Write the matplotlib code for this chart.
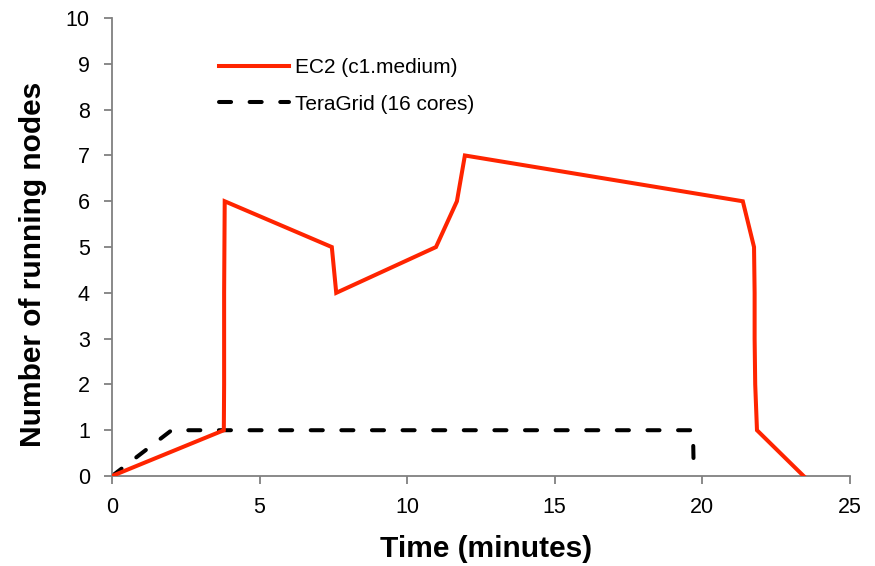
import matplotlib
matplotlib.use("Agg")
import matplotlib.pyplot as plt

plt.rcParams['font.family'] = ['Liberation Sans', 'DejaVu Sans']

# EC2 (c1.medium) running node count over time
ec2_time = [0, 3.79, 3.8, 3.8, 3.8, 3.82, 7.45, 7.6, 10.98, 11.69, 11.96, 21.38, 21.76, 21.78, 21.78, 21.8, 21.86, 23.44]
ec2_nodes = [0, 1, 2, 3, 4, 6, 5, 4, 5, 6, 7, 6, 5, 4, 3, 2, 1, 0]

# TeraGrid (16 cores) running node count over time
tg_time = [0, 2.02, 19.69, 19.72]
tg_nodes = [0, 1, 1, 0]

x_ticks = [0, 5, 10, 15, 20, 25]
y_ticks = list(range(0, 11))

fig = plt.figure(figsize=(8.75, 5.66), dpi=100)
ax = fig.add_axes([0.128, 0.159, 0.843, 0.809])

red = '#FF2400'
ax.plot(ec2_time, ec2_nodes, color=red, lw=2.9, solid_joinstyle='miter',
        label='EC2 (c1.medium)', zorder=3)
ax.plot(tg_time, tg_nodes, color='black', lw=2.9, dashes=(3.0, 4.6),
        dash_capstyle='round', label='TeraGrid (16 cores)', zorder=2)

ax.set_xlim(0, 25)
ax.set_ylim(0, 10)
ax.set_xticks(x_ticks)
ax.set_yticks(y_ticks)

for s in ['top', 'right']:
    ax.spines[s].set_visible(False)
for s in ['left', 'bottom']:
    ax.spines[s].set_color('#808080')
    ax.spines[s].set_linewidth(1.3)

ax.tick_params(axis='both', direction='out', length=6, width=1.3,
               color='#808080', labelsize=15.5, labelcolor='black')
ax.tick_params(axis='y', pad=10)
ax.tick_params(axis='x', pad=9)

ax.set_xlabel('Time (minutes)', fontsize=21.5, fontweight='bold')
ax.set_ylabel('Number of running nodes', fontsize=21.5, fontweight='bold')
ax.xaxis.set_label_coords(0.507, -0.128)
ax.yaxis.set_label_coords(-0.088, 0.463)

leg = ax.legend(loc='upper left', bbox_to_anchor=(0.119, 0.954), frameon=False,
                fontsize=15, handlelength=3.4, handletextpad=0.25, labelspacing=0.85)

fig.savefig('out.png', dpi=100)
